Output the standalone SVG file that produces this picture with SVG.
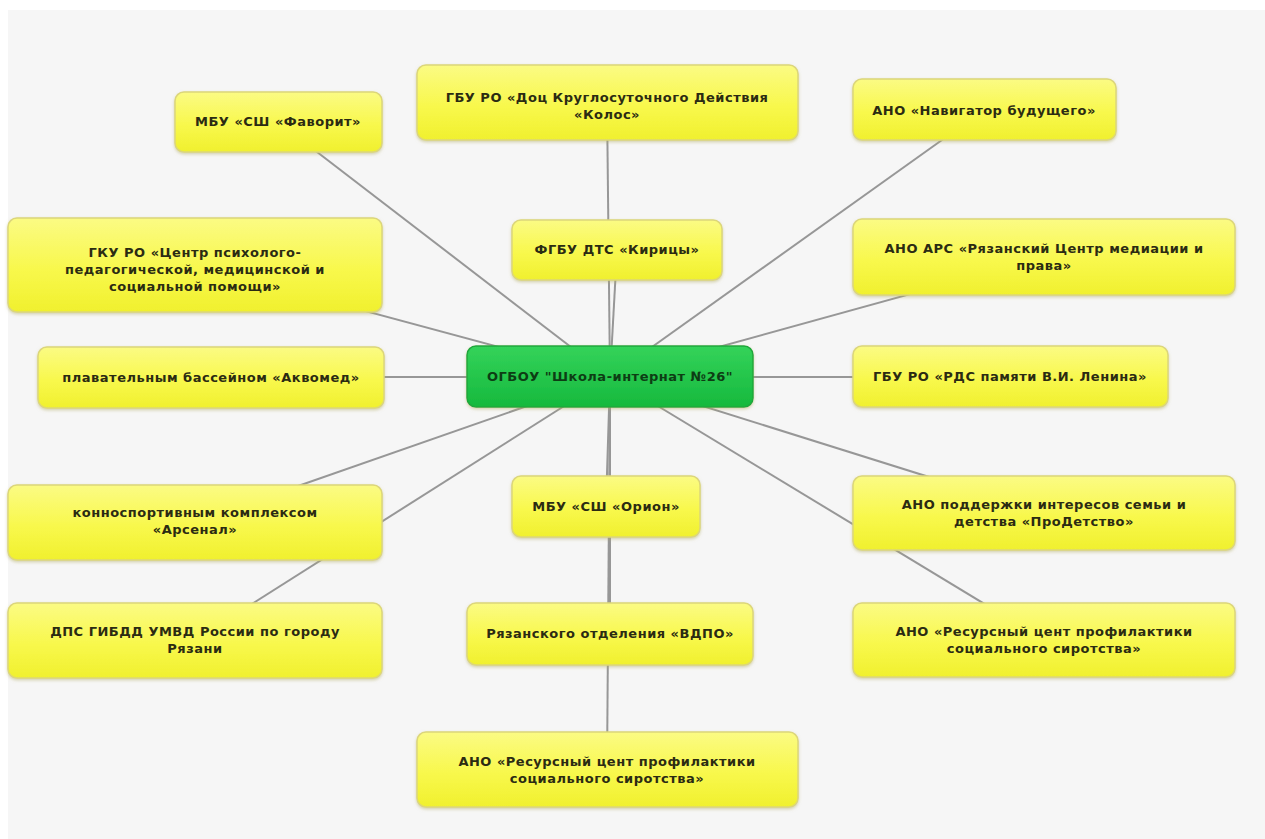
<svg xmlns="http://www.w3.org/2000/svg" width="1265" height="839" viewBox="0 0 1265 839">
<defs>
<linearGradient id="gy" x1="0" y1="0" x2="0" y2="1">
<stop offset="0" stop-color="#fbfb84"/>
<stop offset="0.55" stop-color="#f8f84c"/>
<stop offset="1" stop-color="#f0f02e"/>
</linearGradient>
<linearGradient id="gg" x1="0" y1="0" x2="0" y2="1">
<stop offset="0" stop-color="#34d35a"/>
<stop offset="1" stop-color="#16b93d"/>
</linearGradient>
<filter id="sh" x="-10%" y="-20%" width="120%" height="150%">
<feDropShadow dx="0" dy="1.5" stdDeviation="1.5" flood-color="#b0aa60" flood-opacity="0.5"/>
</filter>
</defs>
<style>
.n rect{fill:url(#gy);stroke:#dcd67a;stroke-width:1.5;filter:url(#sh)}
.n text{font-family:"DejaVu Sans",Verdana,sans-serif;font-weight:bold;font-size:13px;letter-spacing:0.5px;fill:#2b2b12;text-anchor:middle}
#center rect{fill:url(#gg);stroke:#1fa83e;stroke-width:1.5;filter:url(#sh)}
#center text{font-family:"DejaVu Sans",Verdana,sans-serif;font-weight:bold;font-size:13px;letter-spacing:0.5px;fill:#0d3d14;text-anchor:middle}
#connectors line{stroke:#979797;stroke-width:2}
</style>
<rect x="0" y="0" width="1265" height="839" fill="#ffffff"/>
<rect x="8" y="10" width="1257" height="829" fill="#f6f6f6"/>
<g id="connectors">
<line x1="610" y1="377" x2="278" y2="122"/>
<line x1="610" y1="377" x2="607" y2="102"/>
<line x1="610" y1="377" x2="984" y2="110"/>
<line x1="610" y1="377" x2="617" y2="250"/>
<line x1="610" y1="377" x2="195" y2="265"/>
<line x1="610" y1="377" x2="1044" y2="257"/>
<line x1="610" y1="377" x2="211" y2="377"/>
<line x1="610" y1="377" x2="1010" y2="377"/>
<line x1="610" y1="377" x2="195" y2="522"/>
<line x1="610" y1="377" x2="195" y2="640"/>
<line x1="610" y1="377" x2="606" y2="506"/>
<line x1="610" y1="377" x2="610" y2="634"/>
<line x1="610" y1="377" x2="607" y2="770"/>
<line x1="610" y1="377" x2="1044" y2="513"/>
<line x1="610" y1="377" x2="1044" y2="640"/>
</g>
<g id="n-favorit" class="n"><rect x="175" y="92" width="207" height="60" rx="9"/><text x="278" y="126">МБУ «СШ «Фаворит»</text></g>
<g id="n-kolos" class="n"><rect x="417" y="65" width="381" height="75" rx="9"/><text x="607" y="102">ГБУ РО «Доц Круглосуточного Действия</text><text x="607" y="119">«Колос»</text></g>
<g id="n-navigator" class="n"><rect x="853" y="79" width="263" height="61" rx="9"/><text x="984" y="115">АНО «Навигатор будущего»</text></g>
<g id="n-kiritsy" class="n"><rect x="512" y="220" width="210" height="60" rx="9"/><text x="617" y="254">ФГБУ ДТС «Кирицы»</text></g>
<g id="n-gku" class="n"><rect x="8" y="218" width="374" height="94" rx="9"/><text x="195" y="257">ГКУ РО «Центр психолого-</text><text x="195" y="274">педагогической, медицинской и</text><text x="195" y="291">социальной помощи»</text></g>
<g id="n-ars" class="n"><rect x="853" y="219" width="382" height="76" rx="9"/><text x="1044" y="253">АНО АРС «Рязанский Центр медиации и</text><text x="1044" y="270">права»</text></g>
<g id="n-akvomed" class="n"><rect x="38" y="347" width="346" height="61" rx="9"/><text x="211" y="382">плавательным бассейном «Аквомед»</text></g>
<g id="center"><rect x="467" y="346" width="286" height="61" rx="9"/><text x="610" y="381">ОГБОУ "Школа-интернат №26"</text></g>
<g id="n-rds" class="n"><rect x="853" y="346" width="315" height="61" rx="9"/><text x="1010" y="381">ГБУ РО «РДС памяти В.И. Ленина»</text></g>
<g id="n-arsenal" class="n"><rect x="8" y="485" width="374" height="75" rx="9"/><text x="195" y="517">конноспортивным комплексом</text><text x="195" y="534">«Арсенал»</text></g>
<g id="n-orion" class="n"><rect x="512" y="476" width="188" height="61" rx="9"/><text x="606" y="511">МБУ «СШ «Орион»</text></g>
<g id="n-prodetstvo" class="n"><rect x="853" y="476" width="382" height="74" rx="9"/><text x="1044" y="509">АНО поддержки интересов семьи и</text><text x="1044" y="526">детства «ПроДетство»</text></g>
<g id="n-dps" class="n"><rect x="8" y="603" width="374" height="75" rx="9"/><text x="195" y="636">ДПС ГИБДД УМВД России по городу</text><text x="195" y="653">Рязани</text></g>
<g id="n-vdpo" class="n"><rect x="467" y="603" width="286" height="62" rx="9"/><text x="610" y="638">Рязанского отделения «ВДПО»</text></g>
<g id="n-resurs-right" class="n"><rect x="853" y="603" width="382" height="74" rx="9"/><text x="1044" y="636">АНО «Ресурсный цент профилактики</text><text x="1044" y="653">социального сиротства»</text></g>
<g id="n-resurs-bottom" class="n"><rect x="417" y="732" width="381" height="75" rx="9"/><text x="607" y="766">АНО «Ресурсный цент профилактики</text><text x="607" y="783">социального сиротства»</text></g>
</svg>
